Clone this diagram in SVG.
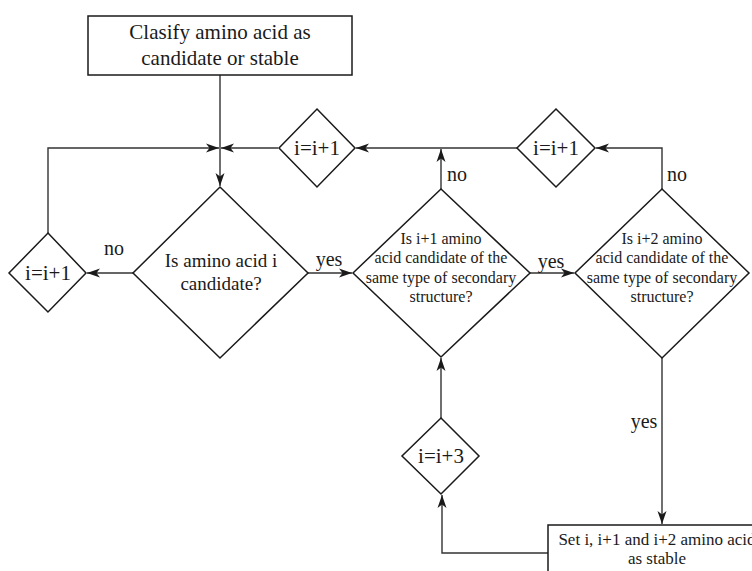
<svg xmlns="http://www.w3.org/2000/svg" width="752" height="571" viewBox="0 0 752 571">
<style>
.shape{fill:#fff;stroke:#1a1a1a;stroke-width:1.5}
.conn{fill:none;stroke:#333;stroke-width:1.4}
text{font-family:"Liberation Serif","Times New Roman",serif;fill:#1a1a1a;text-anchor:middle}
.big{font-size:21px}
.mid{font-size:19px}
.inc{font-size:21px}
.sm{font-size:16px}
.box{font-size:17px}
.lbl{font-size:20px}
</style>
<defs>
<marker id="arr" markerUnits="userSpaceOnUse" markerWidth="14" markerHeight="10" refX="13" refY="5" orient="auto">
<path d="M0,0.5 L13,5 L0,9.5 L3.5,5 z" fill="#1a1a1a"/>
</marker>
</defs>
<rect width="752" height="571" fill="#fff"/>
<g id="connectors">
<path class="conn" d="M220,75 V186" marker-end="url(#arr)"/>
<path class="conn" d="M48,233 V148 H219" marker-end="url(#arr)"/>
<path class="conn" d="M278,148 H221" marker-end="url(#arr)"/>
<path class="conn" d="M133,273 H87" marker-end="url(#arr)"/>
<path class="conn" d="M308,273 H352" marker-end="url(#arr)"/>
<path class="conn" d="M441,189 V149" marker-end="url(#arr)"/>
<path class="conn" d="M517,148 H356" marker-end="url(#arr)"/>
<path class="conn" d="M662,189 V148 H596" marker-end="url(#arr)"/>
<path class="conn" d="M530,273 H574" marker-end="url(#arr)"/>
<path class="conn" d="M662,358 V524" marker-end="url(#arr)"/>
<path class="conn" d="M548,553 H442 V495" marker-end="url(#arr)"/>
<path class="conn" d="M441,418 V358" marker-end="url(#arr)"/>
<text class="lbl" x="114" y="255">no</text>
<text class="lbl" x="329" y="266">yes</text>
<text class="lbl" x="457" y="181">no</text>
<text class="lbl" x="677" y="181">no</text>
<text class="lbl" x="551" y="268">yes</text>
<text class="lbl" x="644" y="428">yes</text>
</g>
<g id="start">
<rect class="shape" x="88" y="16" width="264" height="59"/>
<text class="big" x="220" y="39">Clasify amino acid as</text>
<text class="big" x="220" y="65">candidate or stable</text>
</g>
<g id="incA">
<polygon class="shape" points="317,109 355,148 317,187 279,148"/>
<text class="inc" x="317" y="155">i=i+1</text>
</g>
<g id="incB">
<polygon class="shape" points="556,109 595,148 556,187 517,148"/>
<text class="inc" x="556" y="155">i=i+1</text>
</g>
<g id="incLeft">
<polygon class="shape" points="48,233 86,273 48,312 9,273"/>
<text class="inc" x="48" y="280">i=i+1</text>
</g>
<g id="decision1">
<polygon class="shape" points="220,187 308,273 220,358 133,273"/>
<text class="mid" x="221" y="267">Is amino acid i</text>
<text class="mid" x="221" y="290">candidate?</text>
</g>
<g id="decision2">
<polygon class="shape" points="441,189 530,273 441,357 353,273"/>
<text class="sm" x="441" y="244">Is i+1 amino</text>
<text class="sm" x="441" y="263">acid candidate of the</text>
<text class="sm" x="441" y="283">same type of secondary</text>
<text class="sm" x="441" y="302">structure?</text>
</g>
<g id="decision3">
<polygon class="shape" points="662,189 749,273 662,358 575,273"/>
<text class="sm" x="662" y="244">Is i+2 amino</text>
<text class="sm" x="662" y="263">acid candidate of the</text>
<text class="sm" x="662" y="283">same type of secondary</text>
<text class="sm" x="662" y="302">structure?</text>
</g>
<g id="inc3">
<polygon class="shape" points="441,418 479,456 441,494 402,456"/>
<text class="inc" x="441" y="463">i=i+3</text>
</g>
<g id="stable">
<rect class="shape" x="548" y="525" width="218" height="60"/>
<text class="box" x="657" y="545">Set i, i+1 and i+2 amino acid</text>
<text class="box" x="657" y="564">as stable</text>
</g>
</svg>
